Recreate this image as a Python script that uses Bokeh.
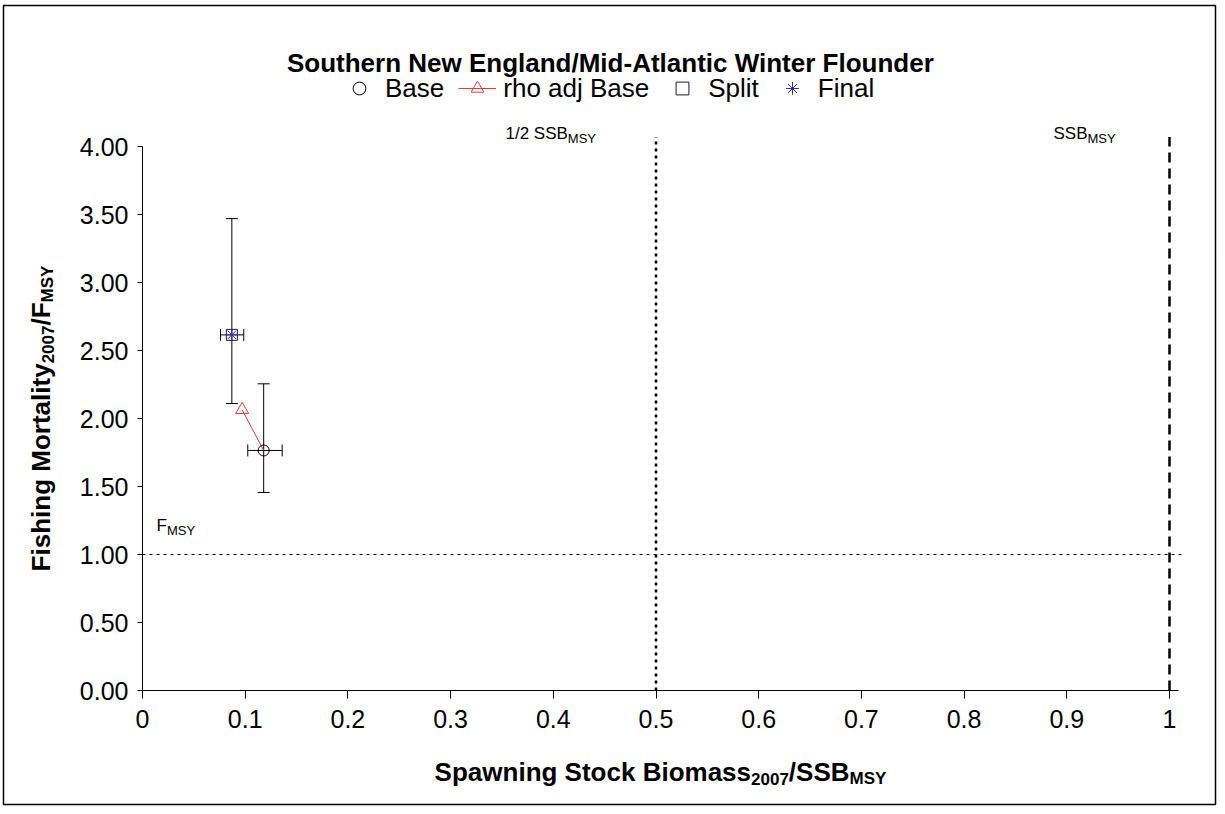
from bokeh.plotting import figure
from bokeh.models import (ColumnDataSource, Whisker, TeeHead, Label, Legend, LegendItem,
                          FixedTicker, NumeralTickFormatter, BoxAnnotation, Range1d)
from bokeh.embed import file_html
from bokeh.resources import INLINE

# ---------------- data ----------------
series = ["Base", "rho adj Base", "Split", "Final"]
ssb_ratio = [0.118, 0.097, 0.087, 0.087]
f_ratio = [1.765, 2.064, 2.615, 2.615]

# error bars (Base and Split/Final)
err_ssb = [0.118, 0.087]
err_f = [1.765, 2.615]
err_ssb_lo = [0.1025, 0.076]
err_ssb_hi = [0.136, 0.0986]
err_f_lo = [1.456, 2.11]
err_f_hi = [2.255, 3.47]

# rho adjusted path (rho adj point back to base point)
rho_path_ssb = [0.097, 0.118]
rho_path_f = [2.064, 1.765]

# reference lines
half_ssb_msy = 0.5
ssb_msy = 1.0
f_msy = 1.0
ref_line_f_top = 4.07      # top of the vertical reference lines
ref_line_ssb_end = 1.013   # right end of the F_MSY line

x_axis_max = 1.009
y_axis_max = 4.0
x_ticks = [0, 0.1, 0.2, 0.3, 0.4, 0.5, 0.6, 0.7, 0.8, 0.9, 1.0]
x_tick_labels = ["0", "0.1", "0.2", "0.3", "0.4", "0.5", "0.6", "0.7", "0.8", "0.9", "1"]
y_ticks = [0, 0.5, 1.0, 1.5, 2.0, 2.5, 3.0, 3.5, 4.0]

title_text = "Southern New England/Mid-Atlantic Winter Flounder"

# ---------------- layout ----------------
W, H = 1217, 806
FONT = "Liberation Sans"
# pixel placement of the data origin and unit lengths
X0_PX, X_UNIT_PX = 142, 1027
Y0_PX, Y_UNIT_PX = 690, 136

x_start = -X0_PX / X_UNIT_PX
x_end = (W - X0_PX) / X_UNIT_PX
y_start = -(H - Y0_PX) / Y_UNIT_PX
y_end = Y0_PX / Y_UNIT_PX

p = figure(width=W, height=H, output_backend="svg", toolbar_location=None,
           x_range=Range1d(x_start, x_end), y_range=Range1d(y_start, y_end),
           min_border=0, min_border_left=0, min_border_right=0, min_border_top=0,
           min_border_bottom=0)
p.background_fill_color = "white"
p.border_fill_color = "white"
p.outline_line_color = None
p.xgrid.visible = False
p.ygrid.visible = False

xa = p.xaxis[0]
xa.fixed_location = 0
xa.bounds = (0, x_axis_max)
xa.ticker = FixedTicker(ticks=x_ticks)
xa.major_label_overrides = {t: l for t, l in zip(x_ticks, x_tick_labels)}
xa.minor_tick_line_color = None
xa.major_tick_out = 8
xa.major_tick_in = 0
xa.major_label_standoff = 11
xa.major_label_text_font = FONT
xa.major_label_text_font_size = "25px"
xa.major_label_text_color = "black"
xa.axis_line_color = "black"
xa.major_tick_line_color = "black"

ya = p.yaxis[0]
ya.fixed_location = 0
ya.bounds = (0, y_axis_max)
ya.ticker = FixedTicker(ticks=y_ticks)
ya.formatter = NumeralTickFormatter(format="0.00")
ya.minor_tick_line_color = None
ya.major_tick_out = 5
ya.major_tick_in = 0
ya.major_label_standoff = 9
ya.major_label_text_font = FONT
ya.major_label_text_font_size = "25px"
ya.major_label_text_color = "black"
ya.axis_line_color = "black"
ya.major_tick_line_color = "black"

# reference lines
p.segment(x0=[0], y0=[f_msy], x1=[ref_line_ssb_end], y1=[f_msy], line_color="black",
          line_width=1, line_dash="3 4")
p.segment(x0=[half_ssb_msy], y0=[0], x1=[half_ssb_msy], y1=[ref_line_f_top], line_color="black",
          line_width=2.5, line_dash="3 4")
p.segment(x0=[ssb_msy], y0=[0], x1=[ssb_msy], y1=[ref_line_f_top], line_color="black",
          line_width=2.5, line_dash="10 6")

# error bars
esrc = ColumnDataSource(dict(x=err_ssb, y=err_f, xlo=err_ssb_lo, xhi=err_ssb_hi,
                             ylo=err_f_lo, yhi=err_f_hi))
p.add_layout(Whisker(source=esrc, base="x", lower="ylo", upper="yhi", dimension="height",
                     line_color="black", line_width=1,
                     upper_head=TeeHead(size=12, line_color="black", line_width=1),
                     lower_head=TeeHead(size=12, line_color="black", line_width=1)))
p.add_layout(Whisker(source=esrc, base="y", lower="xlo", upper="xhi", dimension="width",
                     line_color="black", line_width=1,
                     upper_head=TeeHead(size=12, line_color="black", line_width=1),
                     lower_head=TeeHead(size=12, line_color="black", line_width=1)))

# series
RED = "#e03a3a"
BLUE = "#2e2eb8"
r_line = p.line(rho_path_ssb, rho_path_f, line_color=RED, line_width=1)
r_base = p.scatter([ssb_ratio[0]], [f_ratio[0]], marker="circle", size=11, fill_color=None,
                   line_color="black", line_width=1)
r_rho = p.scatter([ssb_ratio[1]], [f_ratio[1]], marker="triangle", size=13, fill_color=None,
                  line_color=RED, line_width=1)
r_split = p.scatter([ssb_ratio[2]], [f_ratio[2]], marker="square", size=11, fill_color=None,
                    line_color="#1a1a40", line_width=1)
r_final = p.scatter([ssb_ratio[3]], [f_ratio[3]], marker="asterisk", size=12,
                    line_color=BLUE, line_width=1)

LEG_H = 32
LEG_CENTER_Y = 88
legend = Legend(items=[
    LegendItem(label=series[0], renderers=[r_base]),
    LegendItem(label=series[1], renderers=[r_line, r_rho]),
    LegendItem(label=series[2], renderers=[r_split]),
    LegendItem(label=series[3], renderers=[r_final]),
], orientation="horizontal", location=(340, H - LEG_H - (LEG_CENTER_Y - LEG_H // 2)))
legend.label_text_font = FONT
legend.label_text_font_size = "26px"
legend.label_text_color = "black"
legend.glyph_width = 38
legend.glyph_height = LEG_H
legend.label_height = LEG_H
legend.label_standoff = 7
legend.spacing = 14
legend.padding = 0
legend.margin = 0
legend.border_line_color = None
legend.background_fill_alpha = 0
p.add_layout(legend, "center")

# ---------------- rich text helpers ----------------
REG = {' ': 278, '/': 278, '.': 278, '1': 556, '2': 556, '0': 556, '7': 556,
       'B': 667, 'F': 611, 'M': 833, 'S': 667, 'Y': 667}
BOLD = {' ': 278, '/': 278, '-': 333, '0': 556, '2': 556, '7': 556,
        'a': 556, 'b': 611, 'c': 556, 'd': 611, 'e': 556, 'g': 611, 'h': 611, 'i': 278,
        'k': 556, 'l': 278, 'm': 889, 'n': 611, 'o': 611, 'p': 611, 'r': 389, 's': 556,
        't': 333, 'u': 611, 'w': 778, 'y': 556,
        'A': 722, 'B': 722, 'E': 667, 'F': 611, 'M': 833, 'N': 722, 'S': 667, 'W': 944, 'Y': 667}


def tw(s, size, bold):
    m = BOLD if bold else REG
    return sum(m.get(ch, 556) for ch in s) * size / 1000.0


def rich(pieces, x, y, angle=0.0, align="center"):
    """pieces: (text, size, bold, downward offset); y is the vertical middle of the main text."""
    total = sum(tw(t, s, b) for t, s, b, o in pieces)
    pos = -total / 2 if align == "center" else 0.0
    for t, s, b, o in pieces:
        if angle == 0:
            lx, ly = x + pos, y + o
        else:
            lx, ly = x + o, y - pos
        p.add_layout(Label(x=lx, y=ly, x_units="canvas", y_units="canvas", text=t,
                           text_font=FONT, text_font_size=f"{s}px",
                           text_font_style="bold" if b else "normal", text_color="black",
                           text_baseline="middle", text_align="left", angle=angle))
        pos += tw(t, s, b)


# title
rich([(title_text, 26, True, 0)], 610, 62)
# axis titles
rich([("Spawning Stock Biomass", 26, True, 0), ("2007", 17, True, 7), ("/SSB", 26, True, 0),
      ("MSY", 17, True, 7)], 660, 771)
rich([("Fishing Mortality", 26, True, 0), ("2007", 17, True, 7), ("/F", 26, True, 0),
      ("MSY", 17, True, 7)], 40, 418, angle=1.5707963267948966)
# reference line labels
rich([("1/2 SSB", 17, False, 0), ("MSY", 13, False, 4.5)], 505, 133, align="left")
rich([("SSB", 17, False, 0), ("MSY", 13, False, 4.5)], 1053, 133, align="left")
rich([("F", 17, False, 0), ("MSY", 13, False, 4.5)], 156, 525, align="left")

# border around chart
p.add_layout(BoxAnnotation(left=3, right=W - 2, top=5, bottom=H - 2, left_units="canvas",
                           right_units="canvas", top_units="canvas", bottom_units="canvas",
                           fill_alpha=0, line_color="black", line_alpha=1, line_width=1.5,
                           level="overlay"))

open("out.html", "w").write(file_html(p, INLINE))
